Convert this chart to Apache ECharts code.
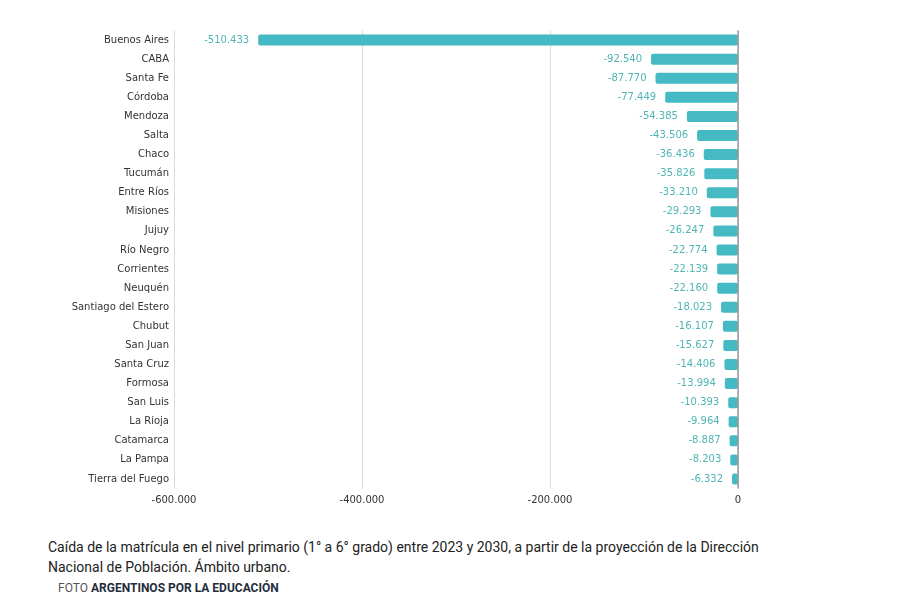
<!DOCTYPE html>
<html><head><meta charset="utf-8">
<script src="https://cdn.jsdelivr.net/npm/echarts@6/dist/echarts.min.js"></script>
<style>
html,body{margin:0;padding:0;background:#fff;width:897px;height:598px;overflow:hidden;}
#chart{position:absolute;left:0;top:0;width:897px;height:520px;}
#cap{position:absolute;left:48px;top:537px;width:760px;font-family:Roboto,sans-serif;font-size:14px;line-height:20px;color:#222;}
#foto{position:absolute;left:58px;top:581px;font-family:Roboto,sans-serif;font-size:12px;color:#555;}
#foto b{color:#1f2d3d;}
</style></head><body>
<div id="chart"></div>
<div id="cap">Caída de la matrícula en el nivel primario (1° a 6° grado) entre 2023 y 2030, a partir de la proyección de la Dirección<br>Nacional de Población. Ámbito urbano.</div>
<div id="foto">FOTO <b>ARGENTINOS POR LA EDUCACIÓN</b></div>
<script>
const provincias = ["Buenos Aires","CABA","Santa Fe","Córdoba","Mendoza","Salta","Chaco","Tucumán","Entre Ríos","Misiones","Jujuy","Río Negro","Corrientes","Neuquén","Santiago del Estero","Chubut","San Juan","Santa Cruz","Formosa","San Luis","La Rioja","Catamarca","La Pampa","Tierra del Fuego"];
const caida = [-510433,-92540,-87770,-77449,-54385,-43506,-36436,-35826,-33210,-29293,-26247,-22774,-22139,-22160,-18023,-16107,-15627,-14406,-13994,-10393,-9964,-8887,-8203,-6332];
const ticks = [-600000,-400000,-200000,0];

function fmt(v){
  const neg = v < 0;
  const s = Math.abs(Math.round(v)).toString().replace(/\B(?=(\d{3})+(?!\d))/g, '.');
  return (neg ? '-' : '') + s;
}

const chart = echarts.init(document.getElementById('chart'));
chart.setOption({
  animation:false,
  grid:{left:174,right:159,top:30.5,height:458,containLabel:false},
  xAxis:{type:'value',min:ticks[0],max:ticks[ticks.length-1],interval:200000,
    axisLine:{show:false},axisTick:{show:false},
    splitLine:{show:true,lineStyle:{color:'#dcdcdc',width:1}},
    axisLabel:{formatter:fmt,color:'#333',fontFamily:'DejaVu Sans',fontSize:10,margin:7}},
  yAxis:{type:'category',data:provincias,inverse:true,
    axisLine:{show:false},axisTick:{show:false},
    axisLabel:{color:'#333',fontFamily:'DejaVu Sans',fontSize:10,margin:5}},
  series:[{type:'bar',data:caida,barWidth:11,
    itemStyle:{color:'#45bac4',borderRadius:2},
    label:{show:true,position:'left',distance:9,formatter:p=>fmt(p.value),color:'#4fb5b5',fontFamily:'DejaVu Sans',fontSize:10},
    markLine:{silent:true,symbol:'none',label:{show:false},lineStyle:{color:'#999',type:'solid',width:1.5},data:[{xAxis:0}]}
  }]
});
</script>
</body></html>
